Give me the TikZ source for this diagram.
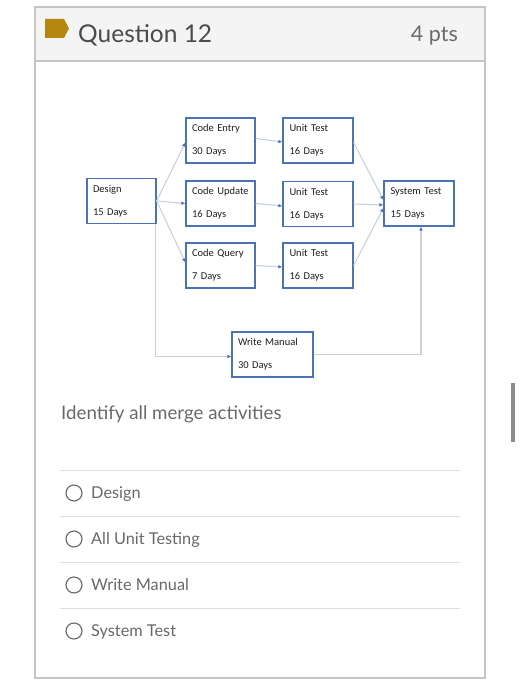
\documentclass[tikz,border=0pt]{standalone}
\usepackage{fontspec}
\setmainfont{Lato}
\newfontfamily\boxfont{Carlito}
\definecolor{boxblue}{HTML}{4a72b4}
\definecolor{linkgray}{HTML}{c8d0de}
\definecolor{tipblue}{HTML}{4a6fb5}
\definecolor{framegray}{HTML}{c6c6c6}
\definecolor{headfill}{HTML}{f4f4f4}
\definecolor{taggold}{HTML}{b5870f}
\definecolor{titletext}{HTML}{4a4a4a}
\definecolor{softtext}{HTML}{686868}
\definecolor{rulegray}{HTML}{dedede}
\usepackage{tikz}
\usetikzlibrary{arrows.meta}

\begin{document}
\begin{tikzpicture}[x=1pt, y=-1pt,
						task/.style={draw=boxblue, line width=1.2pt, fill=white, minimum width=69pt, minimum height=45pt, text width=57pt, align=left, inner xsep=6pt, font=\boxfont\fontsize{10.5}{23}\selectfont, text=black!88},
						link/.style={-{Latex[length=4pt, width=3.6pt, color=tipblue]}, draw=linkgray, line width=1.1pt},
						option/.style={anchor=base west, text=softtext, font=\fontsize{16.3}{19}\selectfont},
						radio/.style={draw=black!60, line width=1.1pt}
					]
					\useasboundingbox (0,0) rectangle (520,700);

					% card and header
					\draw[framegray, line width=1.5pt] (35,7) rectangle (485,678);
					\draw[framegray, line width=1.2pt, fill=headfill] (35,7) rectangle (485,61);
					\fill[taggold] (45,19) -- (64,19) -- (69,28.5) -- (64,38) -- (45,38) -- cycle;
					\node[anchor=base west, text=titletext, font=\fontsize{24.5}{29}\selectfont, inner sep=0pt] (qtitle) at (78,43) {Question 12};
					\node[anchor=base east, text=black!58, font=\fontsize{21.5}{26}\selectfont, inner sep=0pt] (qpts) at (458,42) {4 pts};

					% network
					\node[task] (design) at (121.5,201) {Design\\15 Days};
					\node[task] (centry) at (220.5,140.5) {Code Entry\\30 Days};
					\node[task] (cupdate) at (220.5,203.5) {Code Update\\16 Days};
					\node[task] (cquery) at (220.5,265.5) {Code Query\\7 Days};
					\node[task, minimum width=70pt] (utest1) at (318,140.5) {Unit Test\\16 Days};
					\node[task, minimum width=70pt] (utest2) at (318,204) {Unit Test\\16 Days};
					\node[task, minimum width=70pt] (utest3) at (318,265.5) {Unit Test\\16 Days};
					\node[task, minimum width=70pt] (systest) at (419,203.5) {System Test\\15 Days};
					\node[task, minimum width=81pt, text width=69pt] (manual) at (272.5,354.5) {Write Manual\\30 Days};

					\draw[link] (design.east) -- ([yshift=-2pt]centry.west);
					\draw[link] (design.east) -- (cupdate.west);
					\draw[link] (design.east) -- ([yshift=3pt]cquery.west);
					\draw[link] ([xshift=-1pt]design.south east) |- ([yshift=-2pt]manual.west);

					\draw[link] ([yshift=2pt]centry.east) -- ([yshift=-1.5pt]utest1.west);
					\draw[link] (cupdate.east) -- ([yshift=-2pt]utest2.west);
					\draw[link] (cquery.east) -- ([yshift=-1.5pt]utest3.west);

					\draw[link] ([yshift=-2pt]utest1.east) -- ([yshift=3.5pt]systest.west);
					\draw[link] (utest2.east) -- ([yshift=-1.5pt]systest.west);
					\draw[link] (utest3.east) -- ([yshift=-4.5pt]systest.west);
					\draw[link] (manual.east) -| ([xshift=2pt]systest.south);

					% question and answers
					\node[anchor=base west, text=softtext, font=\fontsize{18.7}{22}\selectfont, inner sep=0pt] (prompt) at (61,419) {Identify all merge activities};

					\foreach \ly in {470,516,562,608}
						\draw[rulegray, line width=1pt] (60,\ly) -- (460,\ly);

					\draw[radio] (74,493) circle (8);
					\draw[radio] (74,539) circle (8);
					\draw[radio] (74,585) circle (8);
					\draw[radio] (74,631) circle (8);
					\node[option, inner sep=0pt] (optdesign) at (91,498) {Design};
					\node[option, inner sep=0pt] (optunit) at (91,544) {All Unit Testing};
					\node[option, inner sep=0pt] (optmanual) at (91,590) {Write Manual};
					\node[option, inner sep=0pt] (optsystem) at (91,636) {System Test};

					% scroll bar
					\fill[black!45] (511,383) rectangle (514.5,442);
				\end{tikzpicture}
\end{document}
